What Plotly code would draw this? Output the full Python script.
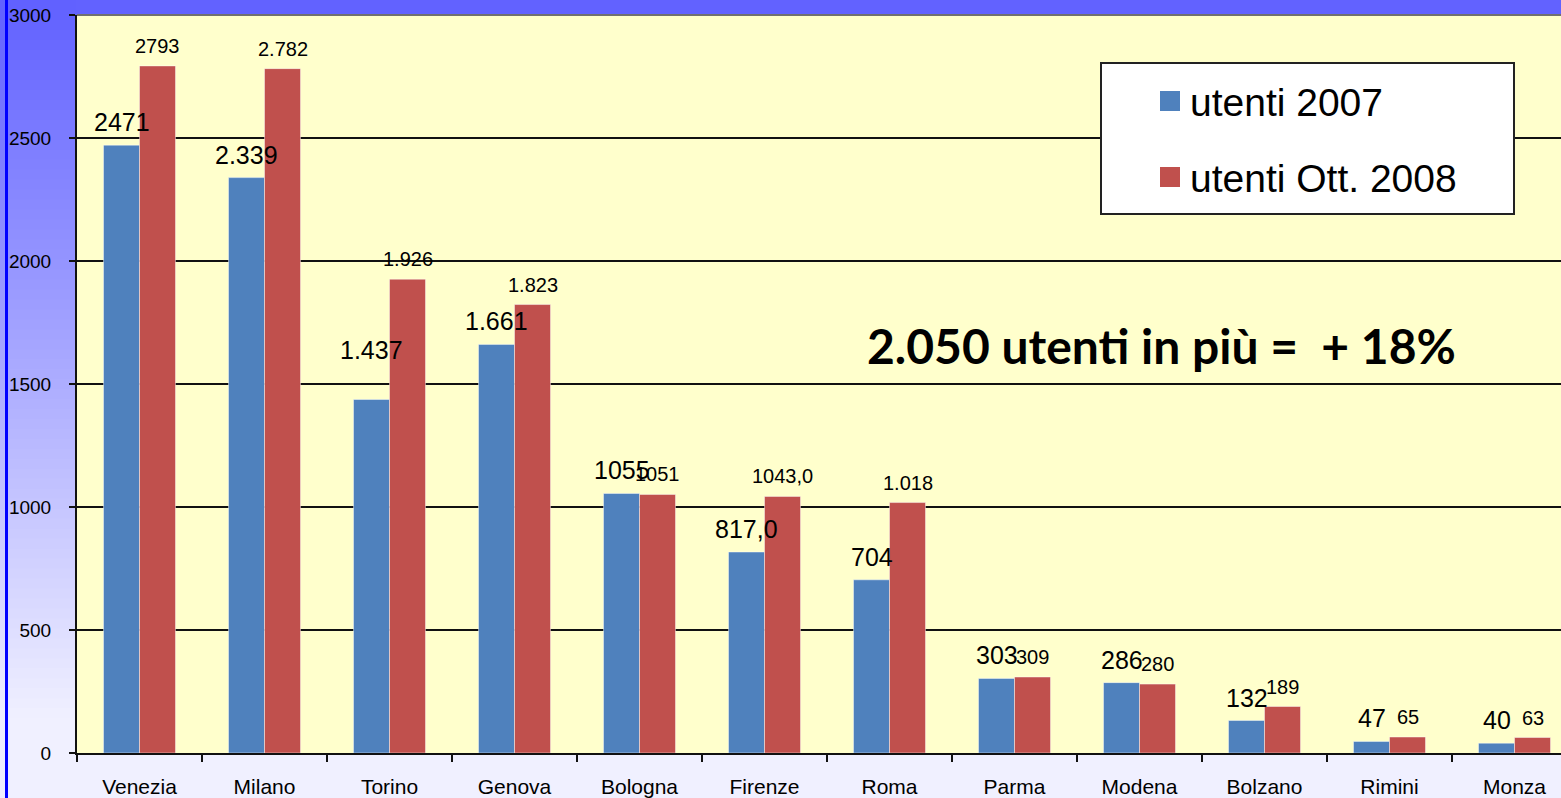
import plotly.graph_objects as go

# ---------------- data ----------------
cities = ["Venezia", "Milano", "Torino", "Genova", "Bologna", "Firenze",
          "Roma", "Parma", "Modena", "Bolzano", "Rimini", "Monza"]
users_2007 = [2471, 2339, 1437, 1661, 1055, 817, 704, 303, 286, 132, 47, 40]
users_oct_2008 = [2793, 2782, 1926, 1823, 1051, 1043, 1018, 309, 280, 189, 65, 63]
labels_2007 = ["2471", "2.339", "1.437", "1.661", "1055", "817,0", "704",
               "303", "286", "132", "47", "40"]
labels_oct_2008 = ["2793", "2.782", "1.926", "1.823", "1051", "1043,0", "1.018",
                   "309", "280", "189", "65", "63"]
series_names = ["utenti 2007", "utenti Ott. 2008"]
y_ticks = [0, 500, 1000, 1500, 2000, 2500, 3000]
headline = "2.050 utenti in più =\u00a0 + 18%"

# ---------------- style ----------------
W, H = 1561, 798
L, T, B = 77, 15, 45
BLUE = "#4F81BD"
RED = "#C0504D"
FONT = "Liberation Sans, Arial, sans-serif"
extra_lift_2007 = {"Torino": 27}


def px(xp):
    return (xp - L) / (W - L)


def py(yp):
    return (H - B - yp) / (H - B - T)


fig = go.Figure()
fig.add_trace(go.Bar(x=cities, y=users_2007, name=series_names[0],
                     marker=dict(color=BLUE, line=dict(color="rgba(255,255,255,0.45)", width=1)),
                     showlegend=False))
fig.add_trace(go.Bar(x=cities, y=users_oct_2008, name=series_names[1],
                     marker=dict(color=RED, line=dict(color="rgba(255,255,255,0.45)", width=1)),
                     showlegend=False))

annotations = []
for c, v, t in zip(cities, users_2007, labels_2007):
    annotations.append(dict(x=c, y=v, xref="x", yref="y", text=t, showarrow=False,
                            xshift=-18, yshift=23 + extra_lift_2007.get(c, 0),
                            yanchor="middle", xanchor="center",
                            font=dict(family=FONT, size=25, color="black")))
for c, v, t in zip(cities, users_oct_2008, labels_oct_2008):
    annotations.append(dict(x=c, y=v, xref="x", yref="y", text=t, showarrow=False,
                            xshift=18, yshift=20, yanchor="middle", xanchor="center",
                            font=dict(family=FONT, size=20, color="black")))

# headline
annotations.append(dict(x=px(1161), y=py(345), xref="paper", yref="paper",
                        text="<b>" + headline + "</b>", showarrow=False,
                        xanchor="center", yanchor="middle",
                        font=dict(family="Lato, sans-serif", size=48, color="black")))

shapes = []
# background gradient in left strip
N = 80
step = H / N
for i in range(N):
    y0 = i * step
    y1 = (i + 1) * step
    ym = (y0 + y1) / 2
    f = min(ym / 720.0, 1.0)
    g = int(round(0x60 + (0xF0 - 0x60) * f))
    col = "rgb(%d,%d,255)" % (g, g)
    shapes.append(dict(type="rect", xref="paper", yref="paper",
                       x0=px(0), x1=px(L), y0=py(y1 + 1.5), y1=py(y0),
                       fillcolor=col, line=dict(width=0), layer="below"))
# top strip
shapes.append(dict(type="rect", xref="paper", yref="paper",
                   x0=px(L - 1), x1=px(W), y0=py(T), y1=py(0),
                   fillcolor="#6262FF", line=dict(width=0), layer="below"))
# left blue line
shapes.append(dict(type="line", xref="paper", yref="paper",
                   x0=px(6.5), x1=px(6.5), y0=py(H), y1=py(0),
                   line=dict(color="#0000FF", width=3), layer="above"))
# top grey border
shapes.append(dict(type="line", xref="paper", yref="paper",
                   x0=px(L), x1=px(W), y0=py(T), y1=py(T),
                   line=dict(color="#707070", width=2), layer="above"))
# manual legend
shapes.append(dict(type="rect", xref="paper", yref="paper",
                   x0=px(1101), x1=px(1514), y0=py(214), y1=py(63),
                   fillcolor="white", line=dict(color="#222222", width=2), layer="above"))
for (yc, col, name) in [(101, BLUE, series_names[0]), (177, RED, series_names[1])]:
    shapes.append(dict(type="rect", xref="paper", yref="paper",
                       x0=px(1160), x1=px(1180), y0=py(yc + 10), y1=py(yc - 10),
                       fillcolor=col, line=dict(width=0), layer="above"))
    annotations.append(dict(x=px(1188), y=py(yc + 1), xref="paper", yref="paper",
                            text=name, showarrow=False, xanchor="left", yanchor="middle",
                            font=dict(family=FONT, size=39, color="black")))

fig.update_layout(
    width=W, height=H, autosize=False,
    margin=dict(l=L, r=0, t=T, b=B, pad=0),
    paper_bgcolor="#F0F0FF",
    plot_bgcolor="#FFFFCC",
    barmode="group", bargap=0.424, bargroupgap=0,
    showlegend=False,
    annotations=annotations,
    shapes=shapes,
    font=dict(family=FONT, color="black"),
)
fig.update_xaxes(type="category", categoryorder="array", categoryarray=cities,
                 range=[-0.5, 11.372], showgrid=False, zeroline=False,
                 showline=True, linecolor="#111111", linewidth=2,
                 ticks="outside", tickson="boundaries", ticklen=7, tickwidth=1.5,
                 tickcolor="#111111", tickfont=dict(family=FONT, size=21, color="black"),
                 ticklabelstandoff=14)
fig.update_yaxes(range=[0, 3000], tickvals=y_ticks, showgrid=True,
                 gridcolor="#111111", gridwidth=1.5, zeroline=False,
                 showline=True, linecolor="#111111", linewidth=2,
                 ticks="outside", ticklen=6, tickwidth=1.5, tickcolor="#111111",
                 tickfont=dict(family=FONT, size=19, color="black"),
                 ticklabelstandoff=14)

fig.write_html("out.html", config={"displayModeBar": False},
               post_script="document.body.style.margin='0px';document.body.style.overflow='hidden';")
